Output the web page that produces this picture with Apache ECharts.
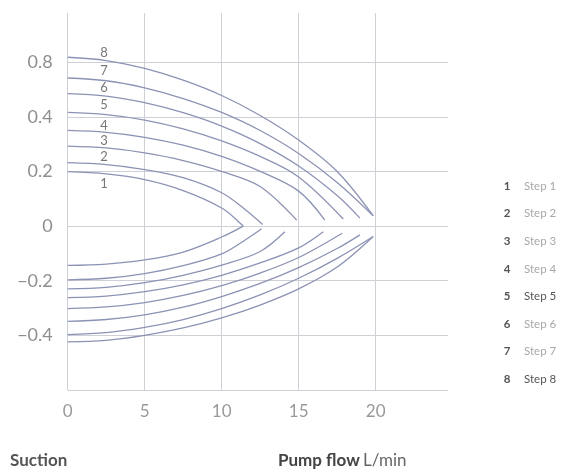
<!DOCTYPE html>
<html>
<head>
<meta charset="utf-8">
<style>
  html, body { margin: 0; padding: 0; background: #fff; }
  #chart { width: 570px; height: 473px; }
</style>
<script src="https://cdn.jsdelivr.net/npm/echarts@6/dist/echarts.min.js"></script>
</head>
<body>
<div id="chart"></div>
<script>
// Pump curves: pressure branch (above 0) and suction branch (below 0) per step
const steps = ['Step 1', 'Step 2', 'Step 3', 'Step 4', 'Step 5', 'Step 6', 'Step 7', 'Step 8'];

// [flow L/min, value] points of the pressure branches
const pressureCurves = [
  [[0, 0.199], [2.5, 0.191], [5, 0.170], [7.5, 0.130], [10, 0.066], [11.4, 0]],
  [[0, 0.232], [2.5, 0.225], [5, 0.207], [7.5, 0.177], [10, 0.122], [11.5, 0.062], [12.66, 0.006]],
  [[0, 0.293], [2.5, 0.286], [5, 0.268], [7.5, 0.240], [10, 0.200], [12.5, 0.145], [14.87, 0.022]],
  [[0, 0.350], [2.5, 0.343], [5, 0.325], [7.5, 0.296], [10, 0.255], [12.5, 0.200], [15, 0.128], [16.7, 0.022]],
  [[0, 0.416], [2.5, 0.408], [5, 0.388], [7.5, 0.356], [10, 0.312], [12.5, 0.255], [15, 0.180], [17.9, 0.026]],
  [[0, 0.485], [2.5, 0.476], [5, 0.452], [7.5, 0.415], [10, 0.366], [12.5, 0.302], [15, 0.220], [17.5, 0.112], [18.98, 0.029]],
  [[0, 0.542], [2.5, 0.532], [5, 0.506], [7.5, 0.467], [10, 0.416], [12.5, 0.350], [15, 0.266], [17.5, 0.160], [19.84, 0.038]],
  [[0, 0.618], [2.5, 0.606], [5, 0.577], [7.5, 0.534], [10, 0.478], [12.5, 0.405], [15, 0.315], [17.5, 0.200], [19.84, 0.038]]
];

// [flow L/min, value] points of the suction branches
const suctionCurves = [
  [[0, -0.144], [2.5, -0.139], [5, -0.124], [7.5, -0.095], [10, -0.040], [11.4, 0]],
  [[0, -0.197], [2.5, -0.191], [5, -0.174], [7.5, -0.145], [10, -0.102], [11.5, -0.052], [12.6, -0.010]],
  [[0, -0.230], [2.5, -0.224], [5, -0.207], [7.5, -0.180], [10, -0.143], [12.5, -0.093], [14.1, -0.021]],
  [[0, -0.262], [2.5, -0.256], [5, -0.240], [7.5, -0.215], [10, -0.180], [12.5, -0.135], [15, -0.080], [16.6, -0.021]],
  [[0, -0.302], [2.5, -0.296], [5, -0.280], [7.5, -0.254], [10, -0.218], [12.5, -0.172], [15, -0.115], [17.83, -0.026]],
  [[0, -0.349], [2.5, -0.342], [5, -0.325], [7.5, -0.297], [10, -0.258], [12.5, -0.210], [15, -0.152], [17.5, -0.082], [18.98, -0.032]],
  [[0, -0.397], [2.5, -0.390], [5, -0.371], [7.5, -0.342], [10, -0.302], [12.5, -0.252], [15, -0.191], [17.5, -0.118], [19.84, -0.038]],
  [[0, -0.424], [2.5, -0.418], [5, -0.400], [7.5, -0.373], [10, -0.336], [12.5, -0.289], [15, -0.230], [17.5, -0.150], [19.84, -0.038]]
];

// Step number tags written next to the pressure branches
const tagFlow = 2.36;
const tagValues = [0.153, 0.255, 0.313, 0.368, 0.444, 0.506, 0.568, 0.634];

// Y tick positions and the text shown at them
const yTickValues = [-0.4, -0.2, 0, 0.2, 0.4, 0.6];
const yTickLabels = ['\u22120.4', '\u22120.2', '0', '0.2', '0.4', '0.8'];
const xTickLabels = ['0', '5', '10', '15', '20'];

const lineColor = '#8c92b4';
const gridColor = '#cfd0d6';
const darkSteps = ['Step 5', 'Step 8'];
const clear = 'rgba(0,0,0,0)';

const series = [];
steps.forEach((name, i) => {
  [pressureCurves[i], suctionCurves[i]].forEach(pts => {
    series.push({
      name: name,
      type: 'line',
      data: pts,
      smooth: 0.35,
      showSymbol: false,
      symbol: 'none',
      color: lineColor,
      lineStyle: { color: lineColor, width: 1.3 },
      emphasis: { disabled: true },
      silent: true
    });
  });
});
series.push({
  type: 'scatter',
  symbolSize: 0,
  silent: true,
  data: tagValues.map((v, i) => ({ value: [tagFlow, v], label: { formatter: String(i + 1) } })),
  label: {
    show: true,
    position: 'inside',
    color: '#555',
    fontSize: 13,
    fontFamily: 'Lato'
  }
});

const chart = echarts.init(document.getElementById('chart'), null, { renderer: 'canvas' });
chart.setOption({
  animation: false,
  backgroundColor: '#fff',
  textStyle: { fontFamily: 'Lato' },
  grid: { left: 67.7, right: 122, top: 13, bottom: 83, containLabel: false },
  xAxis: {
    type: 'value',
    min: 0,
    max: 24.7,
    interval: 5,
    axisLine: { show: false },
    axisTick: { show: false },
    splitLine: {
      show: true,
      lineStyle: { color: [gridColor, gridColor, gridColor, gridColor, gridColor, clear], width: 1 }
    },
    axisLabel: {
      color: '#999',
      fontSize: 17,
      fontFamily: 'Lato',
      margin: 13,
      showMaxLabel: false,
      formatter: v => {
        const k = Math.round(v / 5);
        return Math.abs(v - k * 5) < 1e-6 && k < xTickLabels.length ? xTickLabels[k] : '';
      }
    }
  },
  yAxis: {
    type: 'value',
    min: -0.6,
    max: 0.78,
    interval: 0.2,
    axisLine: { show: false },
    axisTick: { show: false },
    splitLine: {
      show: true,
      lineStyle: { color: [gridColor, gridColor, gridColor, gridColor, gridColor, gridColor, gridColor, clear], width: 1 }
    },
    axisLabel: {
      color: '#8f8f8f',
      fontSize: 18,
      fontFamily: 'Lato',
      margin: 15,
      formatter: v => {
        const k = yTickValues.findIndex(t => Math.abs(t - v) < 1e-6);
        return k >= 0 ? yTickLabels[k] : '';
      }
    }
  },
  legend: {
    orient: 'vertical',
    left: 490,
    top: 174,
    itemWidth: 0,
    itemHeight: 14,
    itemGap: 13.6,
    icon: 'rect',
    selectedMode: false,
    data: steps,
    formatter: name => {
      const n = name.replace('Step ', '');
      const key = darkSteps.includes(name) ? 'sd' : 's';
      return '{n|' + n + '}{' + key + '|' + name + '}';
    },
    textStyle: {
      fontFamily: 'Lato',
      fontSize: 11.5,
      rich: {
        n: { color: '#555', fontSize: 11.5, fontWeight: 'bold', width: 14, align: 'center', fontFamily: 'Lato' },
        s: { color: '#a8a8a8', fontSize: 11.5, padding: [0, 0, 0, 10], fontFamily: 'Lato' },
        sd: { color: '#555', fontSize: 11.5, padding: [0, 0, 0, 10], fontFamily: 'Lato' }
      }
    }
  },
  graphic: [
    {
      type: 'text',
      left: 10,
      top: 452,
      style: { text: 'Suction', fill: '#555', font: 'bold 17px Lato' }
    },
    {
      type: 'text',
      left: 278,
      top: 452,
      style: {
        text: '{b|Pump flow} {r|L/min}',
        rich: {
          b: { fill: '#444', font: 'bold 17px Lato' },
          r: { fill: '#666', font: '17px Lato' }
        }
      }
    }
  ],
  series: series
});
</script>
</body>
</html>
